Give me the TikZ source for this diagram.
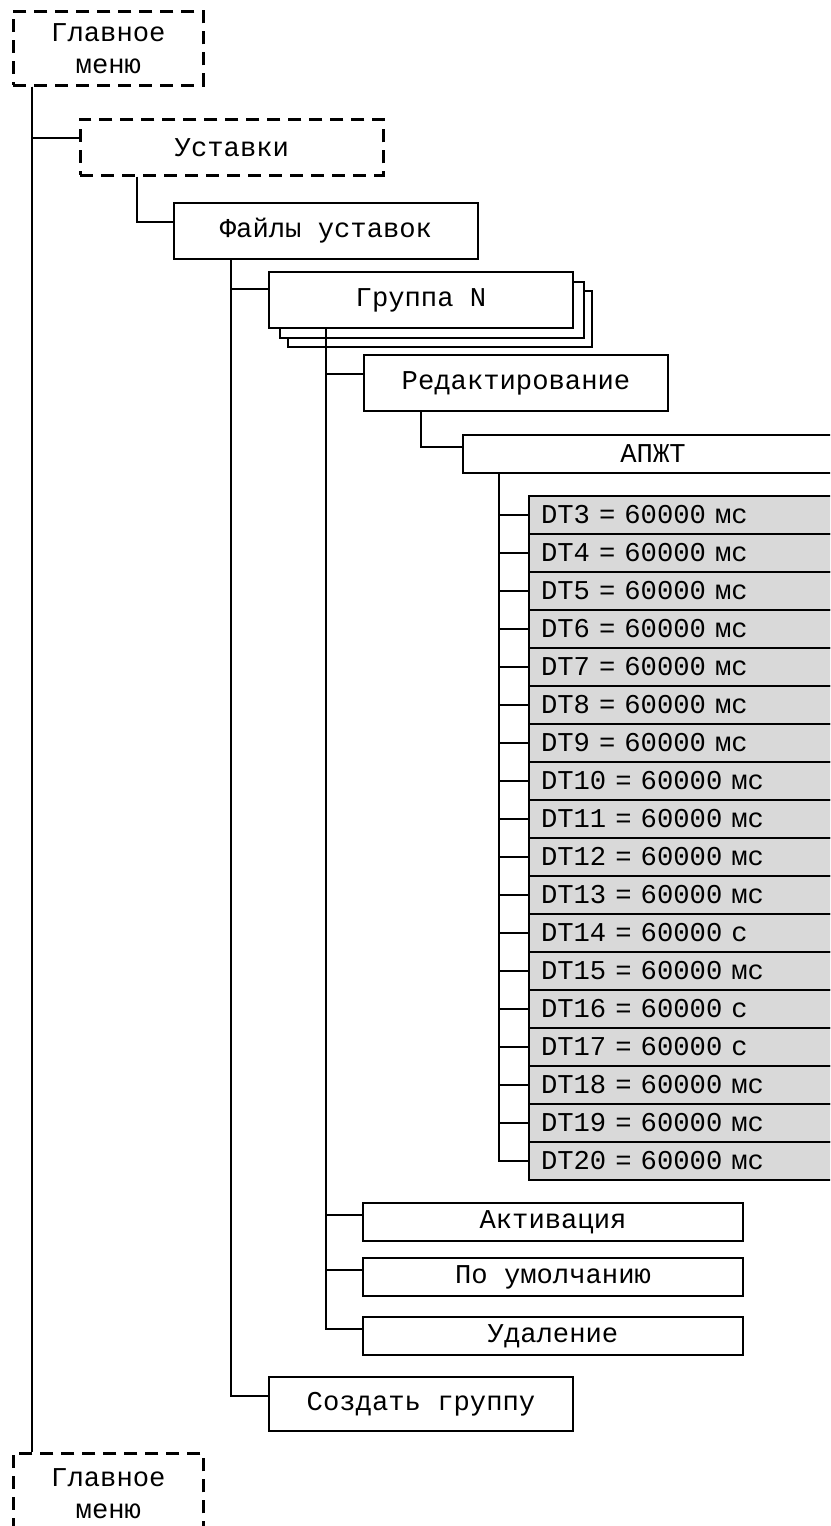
\documentclass[tikz,border=0pt]{standalone}
\usepackage{fontspec}
\newfontfamily\menufont{Liberation Mono}
\definecolor{cellgray}{HTML}{D9D9D9}
\usetikzlibrary{positioning}

\tikzset{
  mbox/.style={draw, line width=2pt, fill=white, anchor=north west, inner sep=0pt,
    align=center, font={\menufont\fontsize{27.2pt}{32pt}\selectfont}},
  dashbox/.style={mbox, line width=2.7pt, dash pattern=on 13pt off 8pt},
  itembox/.style={mbox, minimum width=304pt, minimum height=56pt},
  widebox/.style={mbox, minimum width=380pt, minimum height=38pt},
  cellbox/.style={mbox, fill=cellgray, align=left, text width=306pt,
    inner xsep=12pt, minimum height=38pt},
  wire/.style={line width=2pt}
}

\begin{document}
\begin{tikzpicture}[x=1pt,y=-1pt]
  \useasboundingbox (0,0) rectangle (830,1526);
  \clip (0,0) rectangle (830,1526);

  % menu boxes
  \node[dashbox, minimum width=190pt, minimum height=74pt] (glav1) at (12,10) {Главное\\меню};
  \node[dashbox, minimum width=303pt, minimum height=56pt] (ust) at (79,118) {Уставки};
  \node[itembox] (fajl) at (173,202) {Файлы уставок};
  \node[itembox] (grp3) at (287,290) {};
  \node[itembox] (grp2) at (279,281) {};
  \node[itembox] (grp) at (268,271) {Группа N};
  \node[itembox] (red) at (363,354) {Редактирование};
  \node[widebox] (apzt) at (462,434) {АПЖТ};
  \foreach \idx/\ed in {3/мс,4/мс,5/мс,6/мс,7/мс,8/мс,9/мс,10/мс,11/мс,12/мс,
                        13/мс,14/с,15/мс,16/с,17/с,18/мс,19/мс,20/мс}
    \node[cellbox] (dt\idx) at (528,{495+(\idx-3)*38}) {DT\idx{} = 60000 \ed};
  \node[widebox] (akt) at (362,1202) {Активация};
  \node[widebox] (umol) at (362,1257) {По умолчанию};
  \node[widebox] (udal) at (362,1316) {Удаление};
  \node[itembox, minimum height=54pt] (sozd) at (268,1376) {Создать группу};
  \node[dashbox, minimum width=190pt, minimum height=80pt] (glav2) at (12,1452) {Главное\\меню};

  % tree lines
  \draw[wire] ([xshift=20pt]glav1.south west) -- ([xshift=20pt]glav2.north west);
  \draw[wire] ([xshift=20pt]glav1.south west) |- ([yshift=9pt]ust.west);
  \draw[wire] ([xshift=58pt]ust.south west) |- ([yshift=9pt]fajl.west);
  \draw[wire] ([xshift=58pt]fajl.south west) |- ([yshift=11pt]grp.west);
  \draw[wire] ([xshift=58pt]fajl.south west) |- ([yshift=8pt]sozd.west);
  \draw[wire] ([xshift=58pt]grp.south west) |- ([yshift=9pt]red.west);
  \foreach \nm in {akt,umol,udal}
    \draw[wire] ([xshift=58pt]grp.south west) |- ([yshift=7pt]\nm.west);
  \draw[wire] ([xshift=58pt]red.south west) |- ([yshift=7pt]apzt.west);
  \foreach \idx in {3,...,20}
    \draw[wire] ([xshift=37pt]apzt.south west) |- (dt\idx.west);
\end{tikzpicture}
\end{document}
